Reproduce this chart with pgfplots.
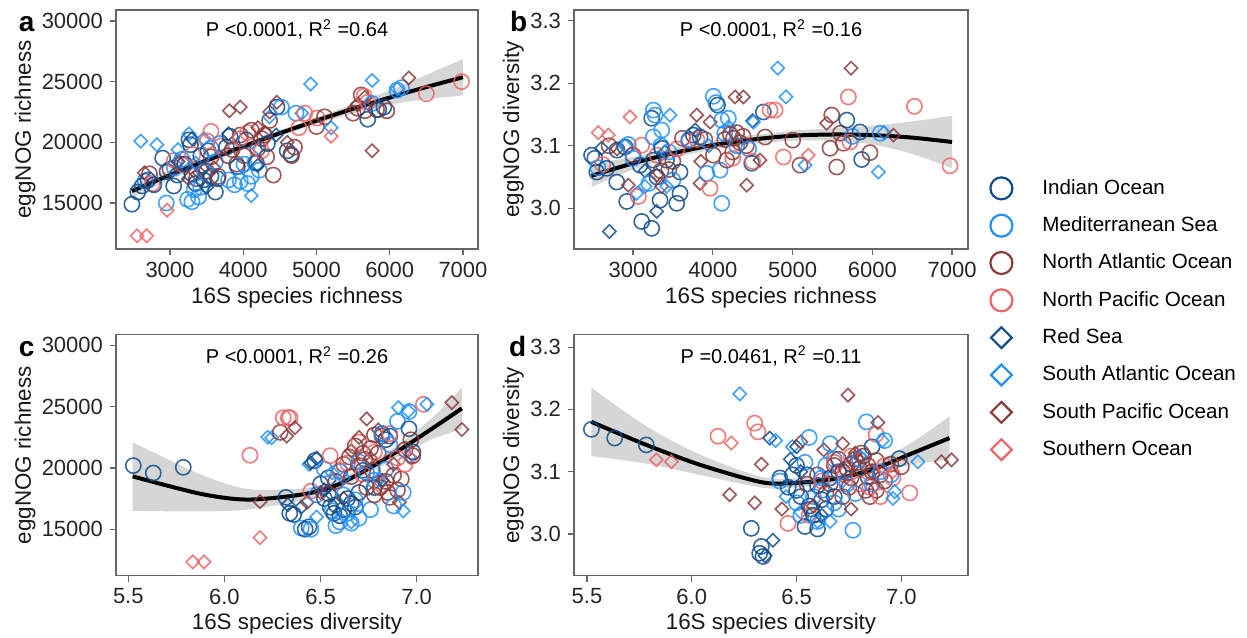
\documentclass[border=0pt]{standalone}
\usepackage{fontspec}
\setmainfont{Liberation Sans}
\usepackage{pgfplots}
\usepackage{pgfplotstable}
\pgfplotsset{compat=1.18}
\usepgfplotslibrary{fillbetween}

\definecolor{cIO}{HTML}{104E8B}
\definecolor{cMS}{HTML}{1E90FF}
\definecolor{cNA}{HTML}{8B3A3A}
\definecolor{cNP}{HTML}{EE6363}

% square diamond (ggplot shape 5)
\pgfdeclareplotmark{dmd}{%
  \pgfpathmoveto{\pgfqpoint{0pt}{\pgfplotmarksize}}%
  \pgfpathlineto{\pgfqpoint{\pgfplotmarksize}{0pt}}%
  \pgfpathlineto{\pgfqpoint{0pt}{-\pgfplotmarksize}}%
  \pgfpathlineto{\pgfqpoint{-\pgfplotmarksize}{0pt}}%
  \pgfpathclose
  \pgfusepathqstroke
}

\tikzset{
  stat/.style={font=\fontsize{10}{12}\selectfont, anchor=base},
  tag/.style={font=\bfseries\fontsize{14}{16}\selectfont, anchor=base west},
}

\pgfplotsset{
  panel/.style={
    scale only axis,
    anchor=south west,
    scaled ticks=false,
    axis line style={black!60, line width=0.6pt},
    tick align=outside,
    xtick pos=lower, ytick pos=left,
    tick style={black!60, line width=0.6pt},
    major tick length=3pt,
    ticklabel style={font=\fontsize{11}{13}\selectfont, text=black!85},
    label style={font=\fontsize{11.2}{13}\selectfont, text=black!90},
  },
  pts/.style={
    only marks, scatter, scatter src=explicit symbolic, forget plot,
    line width=0.8pt, draw opacity=0.85,
    scatter/classes={
      IO={mark=o, mark size=3.8pt, draw=cIO},
      MS={mark=o, mark size=3.8pt, draw=cMS},
      NA={mark=o, mark size=3.8pt, draw=cNA},
      NP={mark=o, mark size=3.8pt, draw=cNP},
      RS={mark=dmd, mark size=3.3pt, draw=cIO},
      SA={mark=dmd, mark size=3.3pt, draw=cMS},
      SP={mark=dmd, mark size=3.3pt, draw=cNA},
      SO={mark=dmd, mark size=3.3pt, draw=cNP}
    }
  },
}

% ---------- panel a : 16S richness vs eggNOG richness ----------
\pgfplotstableread{
x y g
2480 14900 IO
2660 16800 MS
2720 17400 NA
2560 15900 IO
2600 20100 SA
2550 12300 SO
2620 16400 IO
2650 17500 SP
2760 16600 NP
2680 12300 SO
2700 16900 IO
2820 19800 SA
2780 16500 IO
2950 15000 MS
2960 14400 SO
2900 18700 IO
3000 17800 NA
2960 17600 IO
3060 17900 MS
3060 18500 NP
3050 16400 IO
3110 18400 RS
3110 19400 SA
3100 17300 IO
3160 18600 MS
3160 18200 NA
3200 18100 NP
3200 18200 IO
3240 15300 MS
3250 17000 SP
3260 20200 IO
3260 20700 SA
3280 19800 IO
3300 15100 MS
3300 20300 RS
3300 17400 IO
3310 19000 NP
3330 16100 MS
3350 16600 IO
3350 18300 SA
3360 17000 NA
3390 15500 MS
3400 17500 SP
3420 18900 IO
3420 16300 MS
3450 17800 RS
3460 16900 IO
3460 20300 SA
3470 17600 MS
3500 17600 NA
3500 16300 RS
3510 20100 NP
3520 19300 IO
3560 19500 MS
3560 18800 NA
3560 20900 NP
3560 17200 IO
3600 17900 SP
3620 15900 IO
3620 18400 MS
3650 17000 IO
3660 17200 NA
3680 19900 MS
3700 19700 NP
3770 19600 IO
3790 18900 NA
3800 16900 MS
3800 20700 RS
3810 22600 SP
3820 20500 IO
3850 19400 NA
3880 16500 MS
3910 18200 NA
3920 18000 IO
3960 16800 MS
3960 20600 NA
3960 20300 NP
3960 22900 SP
4010 18200 MS
4010 18900 NA
4040 20200 IO
4060 16600 MS
4060 20800 NP
4110 17200 MS
4110 21000 NA
4110 15600 SA
4160 18300 MS
4180 18300 IO
4200 19500 NA
4200 18100 RS
4200 21200 SP
4210 19500 SA
4220 17700 MS
4250 20300 NA
4250 19300 NP
4290 20600 NA
4300 20800 SP
4320 18800 NA
4330 19900 IO
4360 21800 NA
4360 22100 SA
4360 22500 SP
4410 17300 NA
4450 20600 RS
4460 22900 IO
4460 23300 SP
4520 22900 MS
4600 19300 IO
4600 20000 SP
4650 19000 IO
4660 18900 NA
4700 19600 NA
4720 22400 MS
4760 21200 NP
4800 22400 SA
4840 22400 NP
4920 24800 SA
5000 21300 NA
5010 22000 NP
5110 22100 NA
5200 21200 SA
5200 20500 SO
5500 22400 NA
5560 22800 NA
5560 23100 SP
5610 23900 NA
5650 23800 NP
5660 22600 NA
5660 23700 SP
5700 21900 IO
5700 23300 NP
5760 23200 MS
5760 25100 SA
5760 19300 SP
5820 22700 NA
5850 22700 IO
5920 22900 IO
5960 22600 NA
6100 24300 MS
6100 24400 SA
6160 24500 MS
6260 25300 SP
6500 24000 NP
6980 25000 NP
}\tA
\pgfplotstableread{
x f lo hi
2480 15984 15434 16534
3000 17299 16899 17699
3500 18506 18206 18806
4000 19655 19405 19905
4500 20748 20498 20998
5000 21784 21504 22064
5500 22763 22383 23143
6000 23687 23087 24287
6500 24553 23553 25553
7000 25363 23863 26863
}\fA

% ---------- panel b : 16S richness vs eggNOG diversity ----------
\pgfplotstableread{
x y g
2480 3.085 IO
2520 3.080 IO
2545 3.058 IO
2560 3.065 MS
2565 3.121 SO
2607 3.096 RS
2620 3.070 NP
2670 3.064 IO
2690 3.117 SO
2700 3.100 NA
2703 2.963 RS
2796 3.042 IO
2800 3.093 IO
2800 3.095 SP
2900 3.098 IO
2900 3.100 SA
2921 3.011 IO
2940 3.102 MS
2941 3.037 SP
2962 3.146 SO
3000 3.085 NA
3000 3.080 MS
3046 3.024 SA
3067 3.019 NP
3088 3.069 IO
3109 2.979 IO
3109 3.101 NP
3150 3.035 SA
3150 3.060 RS
3200 3.040 MS
3234 2.968 IO
3234 3.144 IO
3255 3.157 MS
3255 3.077 IO
3255 3.114 MS
3276 3.149 MS
3297 3.053 SP
3297 2.995 RS
3300 3.050 IO
3300 3.085 NP
3339 3.013 IO
3350 3.060 NA
3350 3.100 MS
3360 3.096 IO
3360 3.125 MS
3360 3.035 SP
3400 3.090 RS
3420 3.077 IO
3422 3.035 SA
3450 3.062 NA
3450 3.090 MS
3464 3.149 SA
3500 3.075 NA
3500 3.045 MS
3548 3.008 IO
3550 3.095 NP
3589 3.024 IO
3589 3.058 IO
3620 3.112 NA
3700 3.108 NA
3700 3.110 MS
3756 3.117 IO
3780 3.125 RS
3798 3.149 SP
3800 3.110 NP
3840 3.114 IO
3840 3.040 SP
3850 3.075 SP
3900 3.110 NA
3924 3.056 MS
3950 3.100 SA
3966 3.138 SP
3966 3.032 NP
4007 3.179 MS
4007 3.085 NA
4040 3.169 MS
4060 3.165 IO
4091 3.061 MS
4112 3.008 MS
4112 3.141 MS
4150 3.110 NA
4150 3.120 MS
4175 3.077 NA
4195 3.144 MS
4200 3.130 SA
4220 3.118 NA
4250 3.090 NA
4250 3.080 NP
4260 3.112 NA
4279 3.178 SP
4300 3.121 NA
4300 3.100 MS
4340 3.105 NA
4380 3.115 NA
4383 3.178 SP
4420 3.100 NA
4425 3.037 SP
4450 3.095 MS
4488 3.072 IO
4500 3.140 RS
4500 3.075 NP
4509 3.138 SA
4592 3.077 SP
4634 3.154 IO
4655 3.114 NA
4718 3.157 NP
4781 3.157 NP
4814 3.224 SA
4885 3.082 NP
4918 3.178 SA
5002 3.109 NA
5094 3.069 NA
5157 3.069 SA
5198 3.085 SO
5428 3.136 SP
5470 3.096 NA
5491 3.149 NA
5554 3.066 NA
5600 3.120 NA
5637 3.104 NA
5680 3.141 IO
5700 3.178 NP
5721 3.106 NP
5734 3.224 SP
5750 3.115 MS
5846 3.122 IO
5867 3.078 IO
5971 3.089 NA
6076 3.058 SA
6100 3.120 MS
6147 3.121 SA
6264 3.117 SP
6528 3.163 NP
6975 3.068 NP
}\tB
\pgfplotstableread{
x f lo hi
2480 3.052 3.034 3.070
3000 3.072 3.062 3.082
3500 3.088 3.080 3.096
4000 3.101 3.094 3.108
4500 3.110 3.103 3.117
5000 3.116 3.108 3.124
5500 3.118 3.108 3.128
6000 3.117 3.102 3.132
6500 3.113 3.087 3.139
7000 3.106 3.064 3.148
}\fB

% ---------- panel c : 16S diversity vs eggNOG richness ----------
\pgfplotstableread{
x y g
5.526 20190 IO
5.630 19590 IO
5.786 20050 IO
5.835 12340 SO
5.894 12340 SO
6.133 21035 NP
6.185 17260 SP
6.185 14310 SO
6.225 22510 SA
6.246 22460 SA
6.290 22900 NA
6.306 24100 NP
6.320 17600 IO
6.324 22590 SP
6.330 17000 RS
6.332 24100 NP
6.340 16300 IO
6.341 24100 NP
6.360 16200 IO
6.367 23280 SP
6.400 15100 MS
6.400 16800 RS
6.420 15000 IO
6.430 17200 SP
6.440 15200 IO
6.440 20300 SA
6.450 15000 MS
6.450 18100 NP
6.450 20400 RS
6.470 20600 IO
6.480 17800 MS
6.480 16000 SA
6.480 20800 RS
6.500 18700 IO
6.500 18000 SP
6.520 17500 IO
6.520 19900 MS
6.520 18200 RS
6.540 17900 NA
6.540 19200 IO
6.550 16800 IO
6.550 21000 NP
6.560 16500 MS
6.560 17800 RS
6.560 19600 SA
6.570 16300 IO
6.580 17000 IO
6.580 15300 MS
6.580 18900 NA
6.600 16100 IO
6.600 15600 MS
6.600 19800 NP
6.600 19700 MS
6.620 16600 IO
6.620 17800 MS
6.620 20300 NA
6.620 19200 SA
6.620 17500 SP
6.640 17500 IO
6.640 16300 MS
6.640 20400 NP
6.650 20900 NA
6.660 17100 IO
6.660 15500 MS
6.660 15600 SA
6.660 21400 SP
6.660 19300 NA
6.680 16800 IO
6.680 17400 MS
6.680 21800 NA
6.700 18000 IO
6.700 15900 MS
6.700 20200 NA
6.700 22100 NP
6.700 20500 MS
6.700 22500 SP
6.720 19800 IO
6.720 21200 NA
6.720 19500 NP
6.730 20700 NA
6.740 19600 MS
6.740 18400 NA
6.740 24000 SP
6.760 16600 MS
6.760 21600 NA
6.760 20800 SP
6.770 19800 NA
6.780 18400 IO
6.780 19000 MS
6.780 17800 NA
6.780 21300 NP
6.780 22700 NA
6.800 21200 NA
6.800 19000 SA
6.800 23100 SP
6.810 18400 NA
6.820 22800 IO
6.820 22600 NA
6.820 18600 NP
6.820 19000 RS
6.820 22800 MS
6.840 22300 IO
6.840 19900 MS
6.840 18900 NA
6.850 18000 NA
6.860 22600 IO
6.860 21900 MS
6.860 17600 NA
6.860 22800 NP
6.880 16900 MS
6.880 19400 NA
6.880 20300 SP
6.900 18200 NA
6.900 23800 MS
6.900 20800 NP
6.905 24920 SA
6.910 17200 SP
6.920 19100 NA
6.930 18000 MS
6.930 16500 SA
6.940 21500 NA
6.940 20300 NP
6.957 24640 SA
6.960 23200 IO
6.960 24600 MS
6.960 20900 SA
6.970 22300 NA
6.970 20800 SO
6.980 21300 IO
6.980 21000 NA
7.035 25190 NP
7.053 25190 SA
7.183 25330 SP
7.235 23140 SP
}\tC
\pgfplotstableread{
x f lo hi
5.523 19311 16500 22100
5.873 17900 16450 19500
6.116 17420 16600 18300
6.393 17810 17310 18310
6.567 18490 18090 18890
6.740 19860 19480 20240
6.914 21500 21000 22000
7.087 23280 22380 24180
7.235 24860 23160 26560
}\fC

% ---------- panel d : 16S diversity vs eggNOG diversity ----------
\pgfplotstableread{
x y g
5.521 3.168 IO
5.632 3.154 IO
5.783 3.143 IO
5.831 3.119 SO
5.903 3.116 SO
6.125 3.157 NP
6.181 3.063 SP
6.189 3.146 SO
6.229 3.225 SA
6.284 3.009 IO
6.300 3.178 NP
6.300 3.050 SP
6.316 3.164 NP
6.324 2.969 IO
6.332 2.980 IO
6.332 3.112 SP
6.340 2.964 IO
6.350 2.965 RS
6.372 3.154 RS
6.387 2.990 RS
6.400 3.150 SA
6.420 3.090 IO
6.420 3.085 MS
6.430 3.040 SP
6.450 3.060 SA
6.459 3.017 NP
6.460 3.075 IO
6.470 3.120 RS
6.480 3.095 IO
6.480 3.140 SA
6.500 3.070 IO
6.500 3.110 IO
6.500 3.050 MS
6.500 3.140 RS
6.520 3.060 IO
6.520 3.030 MS
6.520 3.100 RS
6.520 3.035 SA
6.520 3.148 SP
6.540 3.012 IO
6.540 3.115 MS
6.550 3.095 IO
6.550 3.080 NA
6.560 3.045 IO
6.560 3.155 MS
6.560 3.030 NP
6.570 3.040 NA
6.580 3.030 IO
6.580 3.060 MS
6.580 3.045 SP
6.600 3.008 IO
6.600 3.078 IO
6.600 3.020 MS
6.600 3.095 NA
6.600 3.020 SA
6.620 3.055 IO
6.620 3.070 MS
6.620 3.090 MS
6.620 3.085 NP
6.620 3.030 RS
6.630 3.135 SP
6.640 3.040 IO
6.640 3.110 MS
6.640 3.065 NA
6.660 3.090 IO
6.660 3.145 MS
6.660 3.020 SA
6.660 3.080 NA
6.680 3.060 IO
6.680 3.050 MS
6.680 3.120 MS
6.680 3.110 NA
6.680 3.115 NP
6.700 3.100 IO
6.700 3.040 MS
6.700 3.120 NA
6.720 3.100 MS
6.720 3.100 NA
6.720 3.060 NA
6.720 3.085 SA
6.720 3.145 SP
6.730 3.095 NP
6.740 3.080 MS
6.740 3.105 NA
6.745 3.223 SP
6.750 3.075 NA
6.760 3.112 IO
6.760 3.090 NA
6.760 3.125 NP
6.760 3.040 SP
6.769 3.006 MS
6.780 3.065 MS
6.780 3.120 NA
6.780 3.130 SP
6.790 3.115 NA
6.800 3.120 MS
6.800 3.105 NA
6.800 3.080 NP
6.800 3.125 SA
6.810 3.130 NA
6.820 3.125 NA
6.830 3.070 NA
6.833 3.180 MS
6.840 3.092 IO
6.840 3.110 NA
6.850 3.060 NA
6.850 3.075 NP
6.860 3.140 IO
6.860 3.080 MS
6.860 3.100 NA
6.860 3.100 SP
6.880 3.118 NA
6.880 3.070 NA
6.880 3.160 NP
6.888 3.179 SP
6.900 3.095 NA
6.900 3.100 MS
6.900 3.060 NP
6.910 3.150 SA
6.920 3.150 MS
6.920 3.085 NA
6.920 3.110 NP
6.950 3.095 MS
6.950 3.112 NA
6.960 3.090 NP
6.960 3.057 SA
6.960 3.100 SO
6.968 3.068 SA
6.990 3.121 IO
7.000 3.108 NA
7.040 3.066 NP
7.079 3.116 SA
7.191 3.116 SP
7.239 3.119 SP
}\tD
\pgfplotstableread{
x f lo hi
5.521 3.180 3.125 3.235
5.783 3.143 3.113 3.173
6.022 3.113 3.096 3.130
6.260 3.089 3.079 3.099
6.387 3.081 3.073 3.089
6.578 3.084 3.077 3.091
6.738 3.092 3.085 3.099
6.896 3.108 3.098 3.118
7.055 3.130 3.112 3.148
7.230 3.154 3.119 3.189
}\fD

\begin{document}
\begin{tikzpicture}

% (a)
\begin{axis}[panel, at={(58pt,194pt)}, width=181pt, height=119.5pt,
  xmin=2263, xmax=7205, ymin=11210, ymax=30900,
  xtick={3000,4000,5000,6000,7000}, xticklabels={3000,4000,5000,6000,7000},
  ytick={15000,20000,25000,30000}, yticklabels={15000,20000,25000,30000},
  xlabel={16S species richness}, ylabel={eggNOG richness},
  xlabel style={at={(axis description cs:0.5,-0.205)}, anchor=center},
  ylabel style={at={(axis description cs:-0.2514,0.5)}, anchor=center}]
  \addplot[pts] table[x=x, y=y, meta=g] {\tA};
  \addplot[name path=aU, draw=none, smooth, forget plot] table[x=x, y=hi] {\fA};
  \addplot[name path=aL, draw=none, smooth, forget plot] table[x=x, y=lo] {\fA};
  \addplot[fill=black!40, fill opacity=0.4, draw=none, forget plot] fill between[of=aU and aL];
  \addplot[black, line width=2pt, smooth, forget plot] table[x=x, y=f] {\fA};
  \node[stat] at (axis description cs:0.5,0.888) {P <0.0001, R\textsuperscript{2} =0.64};
\end{axis}

% (b)
\begin{axis}[panel, at={(287pt,194pt)}, width=197pt, height=119.5pt,
  xmin=2260, xmax=7200, ymin=2.935, ymax=3.317,
  xtick={3000,4000,5000,6000,7000}, xticklabels={3000,4000,5000,6000,7000},
  ytick={3.0,3.1,3.2,3.3}, yticklabels={3.0,3.1,3.2,3.3},
  xlabel={16S species richness}, ylabel={eggNOG diversity},
  xlabel style={at={(axis description cs:0.5,-0.205)}, anchor=center},
  ylabel style={at={(axis description cs:-0.154,0.5)}, anchor=center}]
  \addplot[pts] table[x=x, y=y, meta=g] {\tB};
  \addplot[name path=bU, draw=none, smooth, forget plot] table[x=x, y=hi] {\fB};
  \addplot[name path=bL, draw=none, smooth, forget plot] table[x=x, y=lo] {\fB};
  \addplot[fill=black!40, fill opacity=0.4, draw=none, forget plot] fill between[of=bU and bL];
  \addplot[black, line width=2pt, smooth, forget plot] table[x=x, y=f] {\fB};
  \node[stat] at (axis description cs:0.5,0.888) {P <0.0001, R\textsuperscript{2} =0.16};
\end{axis}

% (c)
\begin{axis}[panel, at={(58pt,30.65pt)}, width=181pt, height=120.5pt,
  xmin=5.436, xmax=7.319, ymin=11210, ymax=30870,
  xtick={5.5,6.0,6.5,7.0}, xticklabels={5.5,6.0,6.5,7.0},
  ytick={15000,20000,25000,30000}, yticklabels={15000,20000,25000,30000},
  xlabel={16S species diversity}, ylabel={eggNOG richness},
  xlabel style={at={(axis description cs:0.5,-0.198)}, anchor=center},
  ylabel style={at={(axis description cs:-0.2514,0.5)}, anchor=center}]
  \addplot[pts] table[x=x, y=y, meta=g] {\tC};
  \addplot[name path=cU, draw=none, smooth, forget plot] table[x=x, y=hi] {\fC};
  \addplot[name path=cL, draw=none, smooth, forget plot] table[x=x, y=lo] {\fC};
  \addplot[fill=black!40, fill opacity=0.4, draw=none, forget plot] fill between[of=cU and cL];
  \addplot[black, line width=2pt, smooth, forget plot] table[x=x, y=f] {\fC};
  \node[stat] at (axis description cs:0.5,0.8795) {P <0.0001, R\textsuperscript{2} =0.26};
\end{axis}

% (d)
\begin{axis}[panel, at={(287pt,30.65pt)}, width=197pt, height=120.5pt,
  xmin=5.438, xmax=7.318, ymin=2.933, ymax=3.320,
  xtick={5.5,6.0,6.5,7.0}, xticklabels={5.5,6.0,6.5,7.0},
  ytick={3.0,3.1,3.2,3.3}, yticklabels={3.0,3.1,3.2,3.3},
  xlabel={16S species diversity}, ylabel={eggNOG diversity},
  xlabel style={at={(axis description cs:0.5,-0.198)}, anchor=center},
  ylabel style={at={(axis description cs:-0.154,0.5)}, anchor=center}]
  \addplot[pts] table[x=x, y=y, meta=g] {\tD};
  \addplot[name path=dU, draw=none, smooth, forget plot] table[x=x, y=hi] {\fD};
  \addplot[name path=dL, draw=none, smooth, forget plot] table[x=x, y=lo] {\fD};
  \addplot[fill=black!40, fill opacity=0.4, draw=none, forget plot] fill between[of=dU and dL];
  \addplot[black, line width=2pt, smooth, forget plot] table[x=x, y=f] {\fD};
  \node[stat] at (axis description cs:0.5,0.882) {P =0.0461, R\textsuperscript{2} =0.11};
\end{axis}

% legend
\begin{axis}[hide axis, scale only axis, width=10pt, height=10pt,
  at={(495pt,231pt)}, anchor=north west,
  xmin=0, xmax=1, ymin=0, ymax=1,
  legend cell align=left,
  legend style={at={(axis description cs:0,1)}, anchor=north west,
    draw=none, fill=none, inner sep=0pt, row sep=5.7pt, column sep=13pt,
    font=\fontsize{10.3}{12}\selectfont}]
  \addplot[draw=none, forget plot] coordinates {(0,0) (1,1)};
  \addlegendimage{only marks, mark=o, mark size=5.5pt, line width=1.1pt, draw=cIO}
  \addlegendimage{only marks, mark=o, mark size=5.5pt, line width=1.1pt, draw=cMS}
  \addlegendimage{only marks, mark=o, mark size=5.5pt, line width=1.1pt, draw=cNA}
  \addlegendimage{only marks, mark=o, mark size=5.5pt, line width=1.1pt, draw=cNP}
  \addlegendimage{only marks, mark=dmd, mark size=5.2pt, line width=1.1pt, draw=cIO}
  \addlegendimage{only marks, mark=dmd, mark size=5.2pt, line width=1.1pt, draw=cMS}
  \addlegendimage{only marks, mark=dmd, mark size=5.2pt, line width=1.1pt, draw=cNA}
  \addlegendimage{only marks, mark=dmd, mark size=5.2pt, line width=1.1pt, draw=cNP}
  \legend{Indian Ocean, Mediterranean Sea, North Atlantic Ocean, North Pacific Ocean,
    Red Sea, South Atlantic Ocean, South Pacific Ocean, Southern Ocean}
\end{axis}

\node[tag] at (5.85pt,302.65pt) {a};
\node[tag] at (251.5pt,302.65pt) {b};
\node[tag] at (5.85pt,140.15pt) {c};
\node[tag] at (251pt,140.15pt) {d};

\pgfresetboundingbox
\path[use as bounding box] (0,0) rectangle (623.5pt,318.5pt);
\end{tikzpicture}
\end{document}
